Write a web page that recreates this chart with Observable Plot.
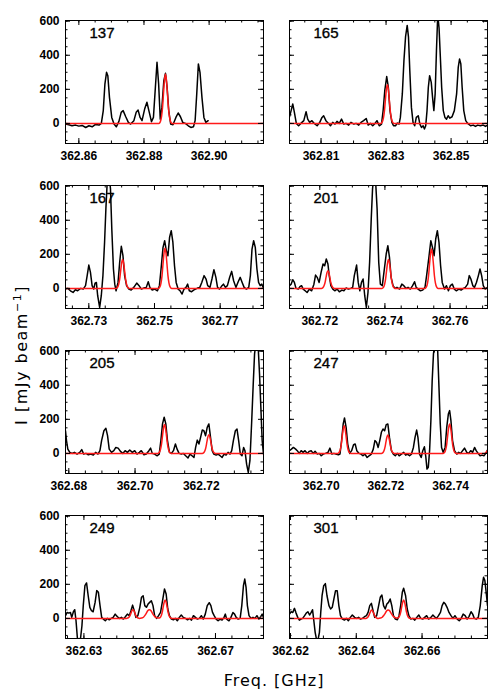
<!DOCTYPE html>
<html><head><meta charset="utf-8">
<script src="https://cdn.jsdelivr.net/npm/d3@7"></script>
<script src="https://cdn.jsdelivr.net/npm/@observablehq/plot@0.6"></script>
<style>
body{margin:0;background:#fff;}
#fig{position:relative;width:500px;height:700px;background:#fff;overflow:hidden;}
.panel{position:absolute;}
.lab{position:absolute;font-family:"DejaVu Sans",sans-serif;font-size:16px;line-height:20px;white-space:nowrap;color:#000;}
</style></head><body><div id="fig"></div>
<script>
// ---- data ----
const panelIds = ["137","165","167","201","205","247","249","301"];
const yDomain = [-118, 604];
const yMajor = [0, 200, 400, 600];
const yMinor = [-100, -50, 0, 50, 100, 150, 200, 250, 300, 350, 400, 450, 500, 550, 600];

const xDomain137 = [362.8559, 362.9167];
const xDomain165 = [362.8003, 362.8612];
const xDomain167 = [362.7229, 362.7832];
const xDomain201 = [362.7107, 362.7715];
const xDomain205 = [362.6790, 362.7388];
const xDomain247 = [362.6902, 362.7514];
const xDomain249 = [362.6244, 362.6846];
const xDomain301 = [362.6197, 362.6799];

const xTicks137 = [362.86, 362.88, 362.90];
const xTicks165 = [362.81, 362.83, 362.85];
const xTicks167 = [362.73, 362.75, 362.77];
const xTicks201 = [362.72, 362.74, 362.76];
const xTicks205 = [362.68, 362.70, 362.72];
const xTicks247 = [362.70, 362.72, 362.74];
const xTicks249 = [362.63, 362.65, 362.67];
const xTicks301 = [362.62, 362.64, 362.66];

const spec137 = [[362.8559,-4],[362.8569,-8],[362.8579,-14],[362.8590,-10],[362.8600,-16],[362.8610,-12],[362.8621,-24],[362.8631,-14],[362.8641,-20],[362.8651,-6],[362.8662,-10],[362.8669,0],[362.8675,75],[362.8680,231],[362.8685,300],[362.8689,280],[362.8694,153],[362.8701,35],[362.8708,-4],[362.8715,-20],[362.8723,12],[362.8730,65],[362.8736,75],[362.8744,39],[362.8752,6],[362.8759,-4],[362.8769,16],[362.8776,65],[362.8782,78],[362.8788,35],[362.8794,16],[362.8802,84],[362.8809,124],[362.8815,75],[362.8823,10],[362.8829,35],[362.8835,212],[362.8840,359],[362.8845,231],[362.8850,25],[362.8855,94],[362.8861,251],[362.8866,294],[362.8871,212],[362.8876,75],[362.8882,-4],[362.8889,-8],[362.8898,35],[362.8905,61],[362.8912,39],[362.8919,6],[362.8927,0],[362.8936,-14],[362.8944,-24],[362.8952,-20],[362.8957,16],[362.8962,173],[362.8967,349],[362.8972,300],[362.8978,153],[362.8984,35],[362.8990,6],[362.8997,16]];
const spec165 = [[362.8003,39],[362.8008,75],[362.8013,114],[362.8018,65],[362.8024,0],[362.8031,-14],[362.8038,0],[362.8047,16],[362.8054,69],[362.8059,25],[362.8065,6],[362.8072,16],[362.8079,0],[362.8088,-14],[362.8096,6],[362.8103,35],[362.8108,45],[362.8115,16],[362.8123,0],[362.8129,-14],[362.8136,6],[362.8143,-4],[362.8149,12],[362.8156,0],[362.8163,25],[362.8170,-4],[362.8177,0],[362.8185,-10],[362.8192,6],[362.8201,-4],[362.8208,0],[362.8216,-10],[362.8223,6],[362.8231,16],[362.8239,29],[362.8245,-10],[362.8252,0],[362.8259,-14],[362.8266,0],[362.8272,16],[362.8279,-14],[362.8286,-4],[362.8291,75],[362.8296,192],[362.8302,275],[362.8307,212],[362.8312,75],[362.8318,6],[362.8323,-14],[362.8329,-14],[362.8335,2],[362.8340,-4],[362.8344,35],[362.8350,173],[362.8355,369],[362.8360,510],[362.8365,575],[362.8369,506],[362.8373,310],[362.8378,94],[362.8383,6],[362.8388,-14],[362.8393,35],[362.8399,45],[362.8404,-4],[362.8409,-24],[362.8414,-14],[362.8418,-33],[362.8422,-14],[362.8426,75],[362.8430,212],[362.8434,280],[362.8439,241],[362.8443,153],[362.8447,75],[362.8451,173],[362.8455,427],[362.8459,640],[362.8463,560],[362.8467,388],[362.8471,212],[362.8476,75],[362.8481,35],[362.8486,25],[362.8491,45],[362.8496,31],[362.8503,39],[362.8510,75],[362.8517,173],[362.8522,329],[362.8526,378],[362.8530,349],[362.8534,212],[362.8539,75],[362.8545,16],[362.8551,0],[362.8560,-14],[362.8568,-10],[362.8575,-18],[362.8582,-10],[362.8590,-14],[362.8599,-10],[362.8606,-18],[362.8612,-10]];
const spec167 = [[362.7229,-4],[362.7236,0],[362.7244,-14],[362.7252,-24],[362.7259,-8],[362.7266,-14],[362.7275,0],[362.7283,-4],[362.7290,16],[362.7295,75],[362.7300,137],[362.7305,94],[362.7310,16],[362.7315,-4],[362.7319,31],[362.7323,35],[362.7327,-43],[362.7333,-112],[362.7338,-43],[362.7343,75],[362.7348,271],[362.7352,467],[362.7356,623],[362.7362,660],[362.7366,584],[362.7370,349],[362.7375,114],[362.7379,25],[362.7383,-14],[362.7389,35],[362.7394,153],[362.7399,247],[362.7404,192],[362.7409,75],[362.7415,16],[362.7422,-4],[362.7429,-10],[362.7437,6],[362.7446,31],[362.7453,16],[362.7460,-4],[362.7468,2],[362.7475,6],[362.7481,39],[362.7486,6],[362.7493,-10],[362.7501,-4],[362.7509,-14],[362.7515,16],[362.7520,114],[362.7526,241],[362.7531,280],[362.7536,222],[362.7541,192],[362.7546,300],[362.7551,339],[362.7556,271],[362.7561,133],[362.7566,35],[362.7572,-4],[362.7578,-14],[362.7584,-33],[362.7590,-4],[362.7596,6],[362.7601,25],[362.7606,-14],[362.7613,-20],[362.7619,-10],[362.7625,-4],[362.7631,2],[362.7638,6],[362.7644,35],[362.7651,75],[362.7657,55],[362.7662,16],[362.7669,6],[362.7675,55],[362.7681,110],[362.7687,65],[362.7692,6],[362.7698,-4],[362.7704,12],[362.7710,25],[362.7716,6],[362.7722,16],[362.7729,65],[362.7735,100],[362.7741,45],[362.7748,6],[362.7755,39],[362.7761,65],[362.7767,35],[362.7773,6],[362.7780,-4],[362.7787,6],[362.7792,75],[362.7797,231],[362.7802,280],[362.7807,241],[362.7812,114],[362.7817,35],[362.7822,16],[362.7827,25],[362.7832,0]];
const spec201 = [[362.7107,16],[362.7112,25],[362.7117,51],[362.7122,35],[362.7127,0],[362.7134,-4],[362.7139,10],[362.7144,16],[362.7149,-4],[362.7155,-14],[362.7161,-24],[362.7168,-4],[362.7175,-14],[362.7182,25],[362.7187,78],[362.7192,65],[362.7198,35],[362.7204,94],[362.7210,143],[362.7215,133],[362.7220,173],[362.7225,143],[362.7229,75],[362.7234,16],[362.7240,-4],[362.7246,-14],[362.7253,-4],[362.7260,-20],[362.7268,-10],[362.7274,-14],[362.7281,2],[362.7288,-4],[362.7295,0],[362.7301,6],[362.7306,75],[362.7313,137],[362.7318,35],[362.7323,-14],[362.7328,35],[362.7333,55],[362.7338,-43],[362.7343,-112],[362.7348,-24],[362.7353,153],[362.7358,408],[362.7362,584],[362.7366,660],[362.7371,643],[362.7376,467],[362.7381,153],[362.7386,25],[362.7392,16],[362.7397,94],[362.7404,202],[362.7409,251],[362.7414,182],[362.7419,65],[362.7425,16],[362.7431,0],[362.7437,6],[362.7445,-4],[362.7452,25],[362.7458,16],[362.7465,0],[362.7471,6],[362.7478,-4],[362.7485,16],[362.7491,39],[362.7496,6],[362.7502,-4],[362.7509,-14],[362.7516,-10],[362.7523,6],[362.7528,75],[362.7535,182],[362.7541,280],[362.7546,241],[362.7551,192],[362.7556,290],[362.7561,339],[362.7566,271],[362.7571,133],[362.7576,35],[362.7583,-4],[362.7589,16],[362.7595,-14],[362.7601,16],[362.7607,25],[362.7613,-4],[362.7619,-14],[362.7627,-4],[362.7634,-10],[362.7641,0],[362.7647,6],[362.7654,25],[362.7659,75],[362.7664,55],[362.7670,16],[362.7675,6],[362.7681,35],[362.7687,75],[362.7692,114],[362.7697,75],[362.7702,16],[362.7708,-4],[362.7715,6]];
const spec205 = [[362.6790,133],[362.6793,75],[362.6797,25],[362.6803,6],[362.6810,0],[362.6817,6],[362.6825,-4],[362.6833,6],[362.6839,22],[362.6845,-4],[362.6852,0],[362.6859,-8],[362.6866,-4],[362.6874,-10],[362.6881,6],[362.6888,-4],[362.6894,16],[362.6899,75],[362.6906,133],[362.6912,147],[362.6917,104],[362.6922,25],[362.6929,6],[362.6936,16],[362.6942,35],[362.6949,31],[362.6956,12],[362.6963,0],[362.6970,16],[362.6977,6],[362.6984,20],[362.6992,6],[362.6999,16],[362.7006,-4],[362.7013,6],[362.7019,16],[362.7027,-8],[362.7034,-4],[362.7042,16],[362.7047,31],[362.7052,0],[362.7059,-4],[362.7067,-14],[362.7073,-4],[362.7078,75],[362.7083,173],[362.7088,212],[362.7093,173],[362.7098,75],[362.7104,6],[362.7110,0],[362.7116,16],[362.7122,55],[362.7127,25],[362.7133,0],[362.7140,-4],[362.7146,0],[362.7153,-14],[362.7160,-27],[362.7166,-4],[362.7172,-14],[362.7178,-24],[362.7183,35],[362.7188,78],[362.7193,55],[362.7198,94],[362.7203,137],[362.7208,133],[362.7213,104],[362.7218,153],[362.7223,173],[362.7228,94],[362.7233,16],[362.7238,-4],[362.7245,-10],[362.7251,-4],[362.7257,-14],[362.7263,-24],[362.7269,-4],[362.7275,-10],[362.7281,6],[362.7287,-4],[362.7292,16],[362.7297,75],[362.7303,133],[362.7308,143],[362.7313,75],[362.7318,-4],[362.7323,-14],[362.7328,35],[362.7332,16],[362.7337,-63],[362.7342,-112],[362.7347,-43],[362.7352,173],[362.7357,408],[362.7361,584],[362.7366,660],[362.7371,660],[362.7376,467],[362.7380,271],[362.7384,75],[362.7388,-4]];
const spec247 = [[362.6902,16],[362.6908,25],[362.6914,35],[362.6921,25],[362.6926,16],[362.6932,0],[362.6938,16],[362.6944,6],[362.6950,16],[362.6957,0],[362.6963,12],[362.6969,16],[362.6975,0],[362.6981,12],[362.6988,-4],[362.6994,0],[362.7000,-14],[362.7006,-4],[362.7013,0],[362.7021,6],[362.7027,31],[362.7033,-4],[362.7039,0],[362.7045,-4],[362.7053,-8],[362.7058,-4],[362.7063,75],[362.7068,173],[362.7072,208],[362.7077,153],[362.7082,55],[362.7088,0],[362.7094,16],[362.7100,51],[362.7105,55],[362.7110,16],[362.7117,0],[362.7123,-4],[362.7129,-14],[362.7135,-4],[362.7142,-24],[362.7148,-14],[362.7155,-4],[362.7161,25],[362.7166,75],[362.7171,65],[362.7176,35],[362.7181,75],[362.7186,124],[362.7191,143],[362.7196,133],[362.7201,169],[362.7206,173],[362.7211,94],[362.7217,16],[362.7223,-4],[362.7229,-14],[362.7235,0],[362.7241,-14],[362.7248,-4],[362.7255,6],[362.7261,-10],[362.7267,-4],[362.7273,-14],[362.7279,-4],[362.7285,35],[362.7290,94],[362.7295,137],[362.7299,94],[362.7304,-4],[362.7309,-24],[362.7314,16],[362.7319,39],[362.7323,-14],[362.7327,-92],[362.7331,-82],[362.7335,16],[362.7339,192],[362.7343,427],[362.7347,584],[362.7352,660],[362.7356,660],[362.7360,604],[362.7364,388],[362.7368,173],[362.7372,35],[362.7377,6],[362.7383,35],[362.7388,153],[362.7393,231],[362.7397,251],[362.7401,192],[362.7406,75],[362.7412,16],[362.7419,-4],[362.7425,6],[362.7431,0],[362.7437,16],[362.7443,31],[362.7450,6],[362.7456,0],[362.7462,16],[362.7468,6],[362.7474,35],[362.7479,16],[362.7485,0],[362.7491,-14],[362.7497,-10],[362.7503,-14],[362.7509,0],[362.7514,20]];
const spec249 = [[362.6244,16],[362.6249,35],[362.6254,31],[362.6259,35],[362.6263,6],[362.6268,39],[362.6272,51],[362.6276,-14],[362.6280,-112],[362.6285,-161],[362.6290,-112],[362.6294,-43],[362.6298,75],[362.6303,192],[362.6308,208],[362.6313,133],[362.6318,65],[362.6323,45],[362.6328,39],[362.6334,94],[362.6339,163],[362.6344,153],[362.6349,75],[362.6354,6],[362.6359,-4],[362.6365,-14],[362.6371,0],[362.6377,-8],[362.6383,0],[362.6389,6],[362.6395,25],[362.6402,10],[362.6408,0],[362.6414,6],[362.6420,-4],[362.6426,10],[362.6432,25],[362.6438,16],[362.6443,45],[362.6448,78],[362.6453,45],[362.6458,6],[362.6464,16],[362.6470,65],[362.6475,124],[362.6480,133],[362.6485,75],[362.6490,65],[362.6495,84],[362.6500,94],[362.6505,104],[362.6510,75],[362.6515,16],[362.6521,0],[362.6527,16],[362.6533,35],[362.6540,114],[362.6545,173],[362.6550,143],[362.6555,55],[362.6560,16],[362.6566,-4],[362.6572,-8],[362.6578,0],[362.6584,-14],[362.6590,6],[362.6596,20],[362.6602,6],[362.6609,0],[362.6615,-8],[362.6621,0],[362.6627,-10],[362.6633,16],[362.6639,6],[362.6645,-4],[362.6651,0],[362.6657,16],[362.6663,-4],[362.6669,25],[362.6675,75],[362.6681,92],[362.6686,75],[362.6691,35],[362.6696,16],[362.6702,-4],[362.6708,-14],[362.6714,-4],[362.6720,-10],[362.6726,6],[362.6730,25],[362.6734,-4],[362.6741,-14],[362.6747,6],[362.6753,35],[362.6758,25],[362.6763,6],[362.6769,-4],[362.6775,0],[362.6780,75],[362.6785,192],[362.6789,231],[362.6793,182],[362.6797,75],[362.6802,16],[362.6808,0],[362.6814,6],[362.6820,0],[362.6826,16],[362.6832,-4],[362.6838,12],[362.6842,25],[362.6846,6]];
const spec301 = [[362.6197,25],[362.6202,39],[362.6207,35],[362.6212,59],[362.6217,31],[362.6222,6],[362.6227,-10],[362.6232,-4],[362.6237,0],[362.6243,16],[362.6248,31],[362.6253,39],[362.6258,20],[362.6263,35],[362.6267,51],[362.6271,-14],[362.6275,-82],[362.6279,-122],[362.6284,-122],[362.6288,-82],[362.6292,35],[362.6296,133],[362.6301,192],[362.6306,204],[362.6311,133],[362.6317,75],[362.6322,55],[362.6327,65],[362.6332,114],[362.6337,163],[362.6342,163],[362.6347,75],[362.6352,16],[362.6358,-4],[362.6364,-10],[362.6370,0],[362.6376,-14],[362.6382,6],[362.6388,20],[362.6395,6],[362.6401,0],[362.6407,6],[362.6413,-4],[362.6419,0],[362.6425,10],[362.6431,16],[362.6436,35],[362.6441,75],[362.6446,88],[362.6451,45],[362.6456,6],[362.6462,16],[362.6467,65],[362.6473,124],[362.6478,137],[362.6483,75],[362.6488,55],[362.6493,84],[362.6498,94],[362.6503,114],[362.6508,75],[362.6513,16],[362.6519,-4],[362.6525,-8],[362.6530,16],[362.6535,75],[362.6540,153],[362.6544,177],[362.6550,133],[362.6555,55],[362.6560,16],[362.6566,-4],[362.6572,0],[362.6578,-10],[362.6584,6],[362.6590,20],[362.6596,0],[362.6602,-4],[362.6608,6],[362.6614,16],[362.6620,-4],[362.6627,6],[362.6633,20],[362.6638,10],[362.6644,0],[362.6650,16],[362.6656,35],[362.6661,75],[362.6666,94],[362.6671,84],[362.6676,65],[362.6682,35],[362.6688,16],[362.6694,0],[362.6700,16],[362.6707,-4],[362.6713,-14],[362.6719,0],[362.6725,25],[362.6731,16],[362.6737,-4],[362.6743,12],[362.6749,39],[362.6754,25],[362.6759,0],[362.6765,-4],[362.6771,6],[362.6777,75],[362.6783,192],[362.6787,241],[362.6791,222],[362.6795,153],[362.6799,75]];

// red Gaussian-fit curves
const fit137 = [[362.8559,0],[362.8846,0],[362.8850,9],[362.8854,41],[362.8857,93],[362.8860,177],[362.8863,255],[362.8866,290],[362.8869,255],[362.8872,177],[362.8875,93],[362.8878,41],[362.8882,9],[362.8886,0],[362.9167,0]];
const fit165 = [[362.8003,0],[362.8284,0],[362.8288,7],[362.8292,32],[362.8295,73],[362.8298,138],[362.8301,200],[362.8304,227],[362.8307,200],[362.8310,138],[362.8313,73],[362.8316,32],[362.8320,7],[362.8324,0],[362.8612,0]];
const fit167 = [[362.7229,0],[362.7383,0],[362.7387,5],[362.7391,24],[362.7394,54],[362.7397,103],[362.7400,149],[362.7403,169],[362.7406,149],[362.7409,103],[362.7412,54],[362.7415,24],[362.7419,5],[362.7423,0],[362.7512,0],[362.7516,7],[362.7520,33],[362.7523,75],[362.7526,143],[362.7529,207],[362.7532,235],[362.7535,207],[362.7538,143],[362.7541,75],[362.7544,33],[362.7548,7],[362.7552,0],[362.7832,0]];
const fit201 = [[362.7107,0],[362.7205,0],[362.7209,3],[362.7213,15],[362.7216,33],[362.7219,63],[362.7222,92],[362.7225,104],[362.7228,92],[362.7231,63],[362.7234,33],[362.7237,15],[362.7241,3],[362.7245,0],[362.7391,0],[362.7395,5],[362.7399,24],[362.7402,54],[362.7405,103],[362.7408,149],[362.7411,169],[362.7414,149],[362.7417,103],[362.7420,54],[362.7423,24],[362.7427,5],[362.7431,0],[362.7523,0],[362.7527,7],[362.7531,32],[362.7534,74],[362.7537,141],[362.7540,203],[362.7543,231],[362.7546,203],[362.7549,141],[362.7552,74],[362.7555,32],[362.7559,7],[362.7563,0],[362.7715,0]];
const fit205 = [[362.6790,0],[362.7069,0],[362.7073,5],[362.7077,24],[362.7080,54],[362.7083,103],[362.7086,149],[362.7089,169],[362.7092,149],[362.7095,103],[362.7098,54],[362.7101,24],[362.7105,5],[362.7109,0],[362.7203,0],[362.7207,3],[362.7211,15],[362.7214,35],[362.7217,67],[362.7220,97],[362.7223,110],[362.7226,97],[362.7229,67],[362.7232,35],[362.7235,15],[362.7239,3],[362.7243,0],[362.7388,0]];
const fit247 = [[362.6902,0],[362.7051,0],[362.7055,5],[362.7059,23],[362.7062,52],[362.7065,99],[362.7068,143],[362.7071,163],[362.7074,143],[362.7077,99],[362.7080,52],[362.7083,23],[362.7087,5],[362.7091,0],[362.7186,0],[362.7190,3],[362.7194,15],[362.7197,35],[362.7200,66],[362.7203,95],[362.7206,108],[362.7209,95],[362.7212,66],[362.7215,35],[362.7218,15],[362.7222,3],[362.7226,0],[362.7377,0],[362.7381,5],[362.7385,24],[362.7388,55],[362.7391,106],[362.7394,152],[362.7397,173],[362.7400,152],[362.7403,106],[362.7406,55],[362.7409,24],[362.7413,5],[362.7417,0],[362.7505,0],[362.7514,18]];
const fit249 = [[362.6244,0],[362.6429,0],[362.6433,2],[362.6437,7],[362.6440,16],[362.6443,31],[362.6446,45],[362.6449,51],[362.6452,45],[362.6455,31],[362.6458,16],[362.6461,7],[362.6465,2],[362.6469,0],[362.6475,2],[362.6481,7],[362.6485,16],[362.6490,31],[362.6494,45],[362.6499,51],[362.6504,45],[362.6508,31],[362.6513,16],[362.6517,7],[362.6523,3],[362.6527,2],[362.6531,4],[362.6535,15],[362.6538,35],[362.6541,66],[362.6544,95],[362.6547,108],[362.6550,95],[362.6553,66],[362.6556,35],[362.6559,15],[362.6563,3],[362.6567,0],[362.6846,0]];
const fit301 = [[362.6197,0],[362.6427,0],[362.6431,1],[362.6435,7],[362.6438,16],[362.6441,30],[362.6444,43],[362.6447,49],[362.6450,43],[362.6453,30],[362.6456,16],[362.6459,7],[362.6463,1],[362.6467,0],[362.6473,2],[362.6479,7],[362.6483,16],[362.6488,30],[362.6492,43],[362.6497,49],[362.6502,43],[362.6506,30],[362.6511,16],[362.6515,7],[362.6521,3],[362.6524,2],[362.6528,4],[362.6532,15],[362.6535,35],[362.6538,66],[362.6541,95],[362.6544,108],[362.6547,95],[362.6550,66],[362.6553,35],[362.6556,15],[362.6560,3],[362.6564,0],[362.6799,0]];

const panels = [
  {id:"137", xDomain:xDomain137, xTicks:xTicks137, spec:spec137, fit:fit137},
  {id:"165", xDomain:xDomain165, xTicks:xTicks165, spec:spec165, fit:fit165},
  {id:"167", xDomain:xDomain167, xTicks:xTicks167, spec:spec167, fit:fit167},
  {id:"201", xDomain:xDomain201, xTicks:xTicks201, spec:spec201, fit:fit201},
  {id:"205", xDomain:xDomain205, xTicks:xTicks205, spec:spec205, fit:fit205},
  {id:"247", xDomain:xDomain247, xTicks:xTicks247, spec:spec247, fit:fit247},
  {id:"249", xDomain:xDomain249, xTicks:xTicks249, spec:spec249, fit:fit249},
  {id:"301", xDomain:xDomain301, xTicks:xTicks301, spec:spec301, fit:fit301}
];

// ---- drawing ----
const fig = document.getElementById("fig");
const PW = 198, PH = 123, ML = 40, MR = 2, MT = 5, MB = 25;

panels.forEach((p, i) => {
  const col = i % 2, row = Math.floor(i / 2);
  const [x0, x1] = p.xDomain;
  const [y0, y1] = yDomain;
  const ux = (x1 - x0) / PW, uy = (y1 - y0) / PH; // data units per pixel
  const xMinor = d3.range(Math.ceil(x0 * 200), Math.floor(x1 * 200) + 1).map(k => k / 200);
  const bigX = 5 * ux, smallX = 2.5 * ux, bigY = 5 * uy, smallY = 2.5 * uy;
  const plot = Plot.plot({
    width: ML + PW + MR, height: MT + PH + MB,
    marginLeft: ML, marginRight: MR, marginTop: MT, marginBottom: MB,
    style: {fontFamily: "'Liberation Sans', Arial, sans-serif", fontSize: "12px", fontWeight: "bold", background: "transparent", overflow: "visible"},
    x: {domain: p.xDomain, ticks: p.xTicks, tickFormat: d3.format(".2f"), tickSize: 0, tickPadding: 8, label: null},
    y: col === 0
      ? {domain: yDomain, ticks: yMajor, tickSize: 0, tickPadding: 6, label: null}
      : {domain: yDomain, axis: null},
    marks: [
      Plot.text([p.id], {frameAnchor: "top-left", dx: 24, dy: 7, lineAnchor: "top", textAnchor: "start", fontSize: 15, fontWeight: "normal", fill: "black", stroke: "black", strokeWidth: 0.35, text: d => d}),
      Plot.line(p.spec, {x: d => d[0], y: d => d[1], stroke: "black", strokeWidth: 1.5, clip: true}),
      Plot.line(p.fit, {x: d => d[0], y: d => d[1], stroke: "#ff1a1a", strokeWidth: 1.5, curve: "monotone-x", clip: true}),
      // inward ticks (IDL style)
      Plot.ruleX(p.xTicks, {x: d => d, y1: y0, y2: y0 + bigY, stroke: "black"}),
      Plot.ruleX(p.xTicks, {x: d => d, y1: y1, y2: y1 - bigY, stroke: "black"}),
      Plot.ruleX(xMinor, {x: d => d, y1: y0, y2: y0 + smallY, stroke: "black"}),
      Plot.ruleX(xMinor, {x: d => d, y1: y1, y2: y1 - smallY, stroke: "black"}),
      Plot.ruleY(yMajor, {y: d => d, x1: x0, x2: x0 + bigX, stroke: "black"}),
      Plot.ruleY(yMajor, {y: d => d, x1: x1, x2: x1 - bigX, stroke: "black"}),
      Plot.ruleY(yMinor, {y: d => d, x1: x0, x2: x0 + smallX, stroke: "black"}),
      Plot.ruleY(yMinor, {y: d => d, x1: x1, x2: x1 - smallX, stroke: "black"}),
      Plot.frame({stroke: "black", strokeWidth: 1})
    ]
  });
  plot.classList.add("panel");
  plot.style.left = (col === 0 ? 25 : 249) + "px";
  plot.style.top = (15 + 165 * row) + "px";
  fig.appendChild(plot);
});

// shared axis titles
const ylab = document.createElement("div");
ylab.className = "lab";
ylab.innerHTML = "I [mJy beam<sup style=\"font-size:11px;vertical-align:6px\">\u22121</sup>]";
ylab.style.letterSpacing = "1.5px";
ylab.style.left = "20px";
ylab.style.top = "355px";
ylab.style.transform = "translate(-50%,-50%) rotate(-90deg)";
fig.appendChild(ylab);

const xlab = document.createElement("div");
xlab.className = "lab";
xlab.textContent = "Freq. [GHz]";
xlab.style.letterSpacing = "1px";
xlab.style.left = "274px";
xlab.style.top = "671px";
xlab.style.transform = "translateX(-50%)";
fig.appendChild(xlab);
</script>
</body></html>
